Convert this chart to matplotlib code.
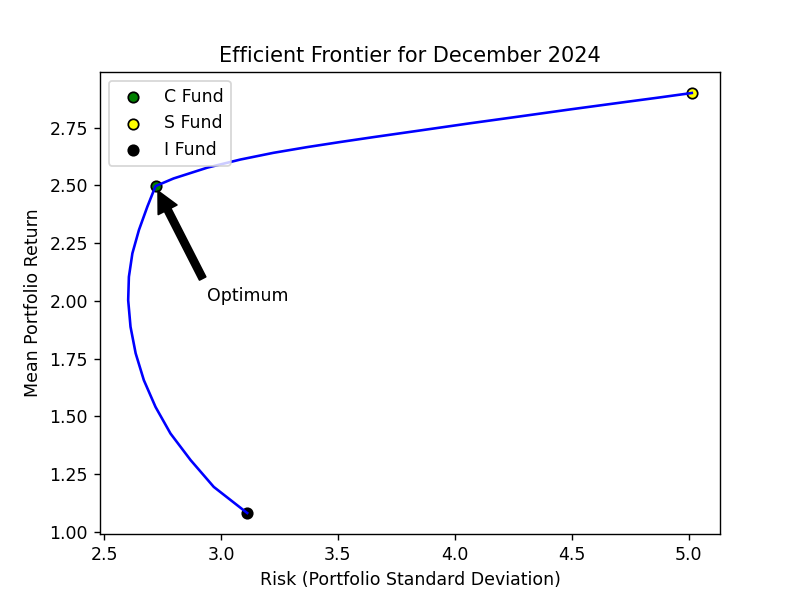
import matplotlib
matplotlib.use('Agg')
import matplotlib.pyplot as plt

# frontier points (I Fund -> C Fund -> S Fund)
frontier_risk = [3.112, 2.969, 2.870, 2.784, 2.720, 2.670, 2.635, 2.613, 2.603, 2.606,
                 2.621, 2.649, 2.685, 2.720,
                 2.797, 2.942, 3.083, 3.224, 3.370, 3.511, 3.652, 3.853, 4.066,
                 4.267, 4.494, 4.707, 4.878, 5.014]
frontier_return = [1.082, 1.195, 1.311, 1.426, 1.541, 1.657, 1.773, 1.888, 2.003, 2.104,
                   2.206, 2.307, 2.408, 2.497,
                   2.530, 2.577, 2.612, 2.641, 2.666, 2.688, 2.709, 2.738, 2.769,
                   2.797, 2.829, 2.858, 2.881, 2.900]

# individual funds
fund_names = ['C Fund', 'S Fund', 'I Fund']
fund_risk = [2.720, 5.014, 3.112]
fund_return = [2.497, 2.900, 1.082]
fund_colors = ['green', 'yellow', 'black']

optimum = (2.720, 2.497)
optimum_text = (2.94, 2.0)

fig, ax = plt.subplots(figsize=(6.4, 4.8), dpi=125)

for name, r, m, c in zip(fund_names, fund_risk, fund_return, fund_colors):
    ax.scatter(r, m, color=c, edgecolors='black', label=name)

ax.plot(frontier_risk, frontier_return, color='blue')

ax.annotate('Optimum', xy=optimum, xytext=optimum_text,
            arrowprops=dict(facecolor='black', shrink=0.05))

ax.set_title('Efficient Frontier for December 2024')
ax.set_xlabel('Risk (Portfolio Standard Deviation)')
ax.set_ylabel('Mean Portfolio Return')
ax.legend(loc='upper left')

plt.savefig('out.png', dpi=125)
